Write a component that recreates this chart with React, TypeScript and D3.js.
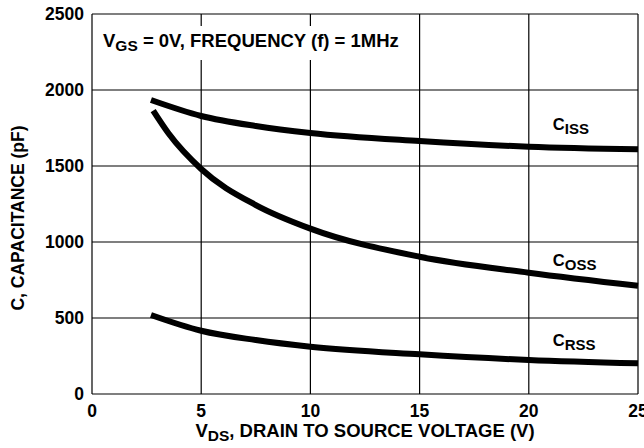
import React, { useEffect, useRef } from "react";
import * as d3 from "d3";

// readings (V in volts, C in pF)
const cissV = [2.7, 5, 7.5, 10, 15, 20, 25];
const cissC = [1934, 1829, 1763, 1717, 1664, 1627, 1610];
const cossV = [2.8, 3.5, 5, 7.5, 10, 15, 20, 25];
const cossC = [1864, 1715, 1480, 1243, 1088, 903, 798, 712];
const crssV = [2.7, 5, 7.5, 10, 15, 20, 25];
const crssC = [520, 416, 355, 311, 261, 224, 202];

const xTicks = [0, 5, 10, 15, 20, 25];
const yTicks = [0, 500, 1000, 1500, 2000, 2500];

const seriesNames = ["ISS", "OSS", "RSS"];
const labelPos = [
  [21.1, 1740],
  [21.1, 845],
  [21.1, 315],
];

const W = 644;
const H = 448;
const margin = { top: 14, right: 6, bottom: 54, left: 92 };
const FONT = "Arial, 'Liberation Sans', Helvetica, sans-serif";

export default function App() {
  const ref = useRef<SVGSVGElement>(null);

  useEffect(() => {
    const svg = d3.select(ref.current);
    svg.selectAll("*").remove();

    const x = d3
      .scaleLinear()
      .domain([0, 25])
      .range([margin.left, W - margin.right]);
    const y = d3
      .scaleLinear()
      .domain([0, 2500])
      .range([H - margin.bottom, margin.top]);

    const g = svg.append("g");

    // grid
    g.append("g")
      .selectAll("line")
      .data(xTicks)
      .join("line")
      .attr("x1", (d) => x(d))
      .attr("x2", (d) => x(d))
      .attr("y1", y(0))
      .attr("y2", y(2500))
      .attr("stroke", "#000")
      .attr("stroke-width", 1.2);
    g.append("g")
      .selectAll("line")
      .data(yTicks)
      .join("line")
      .attr("x1", x(0))
      .attr("x2", x(25))
      .attr("y1", (d) => y(d))
      .attr("y2", (d) => y(d))
      .attr("stroke", "#000")
      .attr("stroke-width", 1.2);

    // white box behind the conditions note
    g.append("rect")
      .attr("x", x(0) + 2)
      .attr("y", 26)
      .attr("width", 320)
      .attr("height", 34)
      .attr("fill", "#fff");

    const note = g
      .append("text")
      .attr("x", 103)
      .attr("y", 47)
      .attr("font-family", FONT)
      .attr("font-weight", "bold")
      .attr("font-size", 18.5)
      .attr("fill", "#000");
    note.append("tspan").text("V");
    note.append("tspan").attr("font-size", 15.5).attr("dy", 4).text("GS");
    note.append("tspan").attr("dy", -4).text(" = 0V, FREQUENCY (f) = 1MHz");

    // curves
    const line = d3
      .line<[number, number]>()
      .x((d) => x(d[0]))
      .y((d) => y(d[1]))
      .curve(d3.curveMonotoneX);

    const series: [number, number][][] = [
      cissV.map((v, i) => [v, cissC[i]]),
      cossV.map((v, i) => [v, cossC[i]]),
      crssV.map((v, i) => [v, crssC[i]]),
    ];

    g.append("g")
      .selectAll("path")
      .data(series)
      .join("path")
      .attr("d", (d) => line(d))
      .attr("fill", "none")
      .attr("stroke", "#000")
      .attr("stroke-width", 6);

    // curve labels
    seriesNames.forEach((name, i) => {
      const t = g
        .append("text")
        .attr("x", x(labelPos[i][0]))
        .attr("y", y(labelPos[i][1]))
        .attr("font-family", FONT)
        .attr("font-weight", "bold")
        .attr("font-size", 16.5)
        .attr("fill", "#000");
      t.append("tspan").text("C");
      t.append("tspan").attr("font-size", 15).attr("dy", 4).text(name);
    });

    // tick labels
    g.append("g")
      .selectAll("text")
      .data(yTicks)
      .join("text")
      .attr("x", x(0) - 8)
      .attr("y", (d) => y(d))
      .attr("dy", "0.36em")
      .attr("text-anchor", "end")
      .attr("font-family", FONT)
      .attr("font-weight", "bold")
      .attr("font-size", 17.5)
      .text((d) => d);
    g.append("g")
      .selectAll("text")
      .data(xTicks)
      .join("text")
      .attr("x", (d) => x(d))
      .attr("y", 417)
      .attr("text-anchor", "middle")
      .attr("font-family", FONT)
      .attr("font-weight", "bold")
      .attr("font-size", 17.5)
      .text((d) => d);

    // axis titles
    const xt = g
      .append("text")
      .attr("x", 365)
      .attr("y", 437)
      .attr("text-anchor", "middle")
      .attr("font-family", FONT)
      .attr("font-weight", "bold")
      .attr("font-size", 18.5)
      .attr("fill", "#000");
    xt.append("tspan").text("V");
    xt.append("tspan").attr("font-size", 15.5).attr("dy", 4).text("DS");
    xt.append("tspan").attr("dy", -4).text(", DRAIN TO SOURCE VOLTAGE (V)");

    g.append("text")
      .attr("transform", `translate(24, 218) rotate(-90)`)
      .attr("text-anchor", "middle")
      .attr("font-family", FONT)
      .attr("font-weight", "bold")
      .attr("font-size", 17.5)
      .text("C, CAPACITANCE (pF)");
  }, []);

  return (
    <svg
      ref={ref}
      width={W}
      height={H}
      style={{ position: "absolute", left: 0, top: 0, background: "#fff" }}
    />
  );
}
